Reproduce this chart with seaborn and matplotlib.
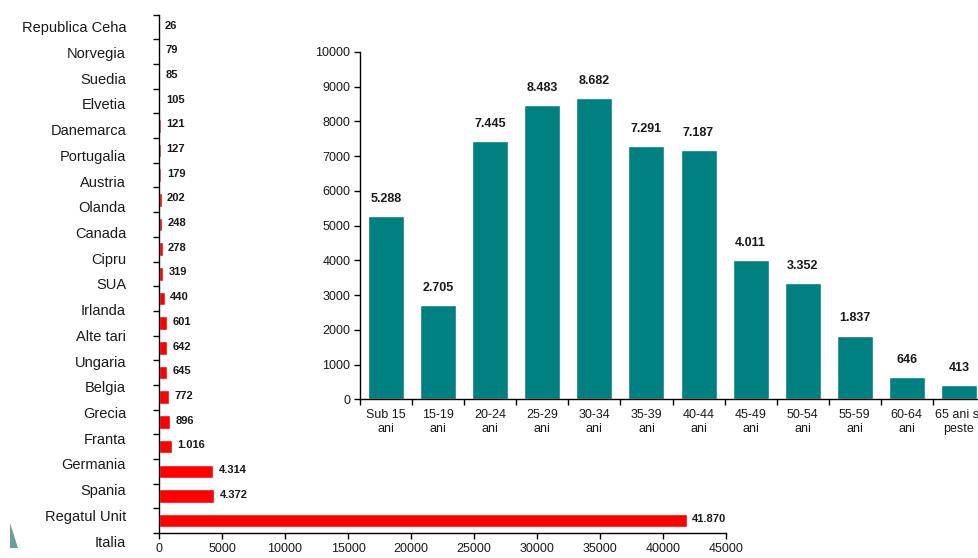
import numpy as np
import pandas as pd
import matplotlib
matplotlib.use("Agg")
import matplotlib.pyplot as plt
from matplotlib.patches import Polygon
import seaborn as sns

# destination countries (top to bottom) and emigrant counts
countries = ["Republica Ceha", "Norvegia", "Suedia", "Elvetia", "Danemarca",
             "Portugalia", "Austria", "Olanda", "Canada", "Cipru", "SUA",
             "Irlanda", "Alte tari", "Ungaria", "Belgia", "Grecia", "Franta",
             "Germania", "Spania", "Regatul Unit", "Italia"]
country_vals = [26, 79, 85, 105, 121, 127, 179, 202, 248, 278, 319,
                440, 601, 642, 645, 772, 896, 1016, 4314, 4372, 41870]

# age groups
age_groups = ["Sub 15\nani", "15-19\nani", "20-24\nani", "25-29\nani",
              "30-34\nani", "35-39\nani", "40-44\nani", "45-49\nani",
              "50-54\nani", "55-59\nani", "60-64\nani", "65 ani si\npeste"]
age_vals = [5288, 2705, 7445, 8483, 8682, 7291, 7187, 4011, 3352, 1837, 646, 413]


def fmt(v):
    return f"{v:,}".replace(",", ".")


sns.set_style("ticks")
plt.rcParams["font.family"] = ["Liberation Sans", "DejaVu Sans"]
plt.rcParams["text.color"] = "#1a1a1a"
plt.rcParams["xtick.color"] = "black"
plt.rcParams["ytick.color"] = "black"
plt.rcParams["xtick.labelcolor"] = "#1a1a1a"
plt.rcParams["ytick.labelcolor"] = "#1a1a1a"

fig = plt.figure(figsize=(9.79, 5.58), dpi=100)

# ---- left chart: countries ----
df_c = pd.DataFrame({"tara": countries, "val": country_vals})
ax = fig.add_axes([159 / 979, 25 / 558, 567 / 979, 518.3 / 558])
sns.barplot(data=df_c, x="val", y="tara", orient="h", color="#ff0000",
            saturation=1, width=0.55, ax=ax)
ax.set_xlim(0, 45000)
ax.set_ylim(len(countries) - 0.5, -0.5)
ax.set_xticks(np.arange(0, 45001, 5000))
ax.set_yticks(np.arange(-0.5, len(countries), 1))
ax.set_yticklabels([])
ax.set_xlabel("")
ax.set_ylabel("")
ax.tick_params(axis="x", labelsize=9, length=4, width=1, pad=3)
ax.tick_params(axis="y", length=4, width=1)
for s in ["left", "bottom"]:
    ax.spines[s].set_color("black")
    ax.spines[s].set_linewidth(1)
sns.despine(ax=ax)

# country labels (spaced a bit wider than the bars, as in the source)
label_step = 1.042
for i, name in enumerate(countries):
    ax.text(-0.058, 0.05 + i * label_step, name, transform=ax.get_yaxis_transform(),
            ha="right", va="center", fontsize=10.5, clip_on=False)

for i, v in enumerate(country_vals):
    ax.annotate(fmt(v), xy=(v, i), xytext=(4, 1), textcoords="offset points",
                ha="left", va="center", fontsize=8, fontweight="bold")

# ---- inset chart: age groups ----
df_a = pd.DataFrame({"grupa": age_groups, "val": age_vals})
ax2 = fig.add_axes([360 / 979, (558 - 399.3) / 558, 625 / 979, 347.3 / 558])
ax2.set_facecolor("white")
sns.barplot(data=df_a, x="grupa", y="val", color="#008080", saturation=1,
            width=0.69, ax=ax2)
ax2.set_ylim(0, 10000)
ax2.set_xlim(-0.5, len(age_groups) - 0.5)
ax2.set_yticks(np.arange(0, 10001, 1000))
ax2.set_xticks(np.arange(-0.5, len(age_groups), 1), minor=True)
ax2.set_xlabel("")
ax2.set_ylabel("")
ax2.tick_params(axis="x", which="major", length=0, labelsize=9, pad=7)
ax2.tick_params(axis="x", which="minor", length=4, width=1)
ax2.tick_params(axis="y", length=4, width=1, labelsize=9, pad=3)
for s in ["left", "bottom"]:
    ax2.spines[s].set_color("black")
    ax2.spines[s].set_linewidth(1)
sns.despine(ax=ax2)

for i, v in enumerate(age_vals):
    ax2.annotate(fmt(v), xy=(i, v), xytext=(0, 8), textcoords="offset points",
                 ha="center", va="bottom", fontsize=9, fontweight="bold")

# slide decoration at bottom-left corner
fig.patches.append(Polygon([[10 / 979, 10 / 558], [18 / 979, 10 / 558],
                            [10 / 979, 35 / 558]], closed=True,
                           transform=fig.transFigure, facecolor="#6e9e9c",
                           edgecolor="none"))

fig.savefig("out.png", dpi=100)
